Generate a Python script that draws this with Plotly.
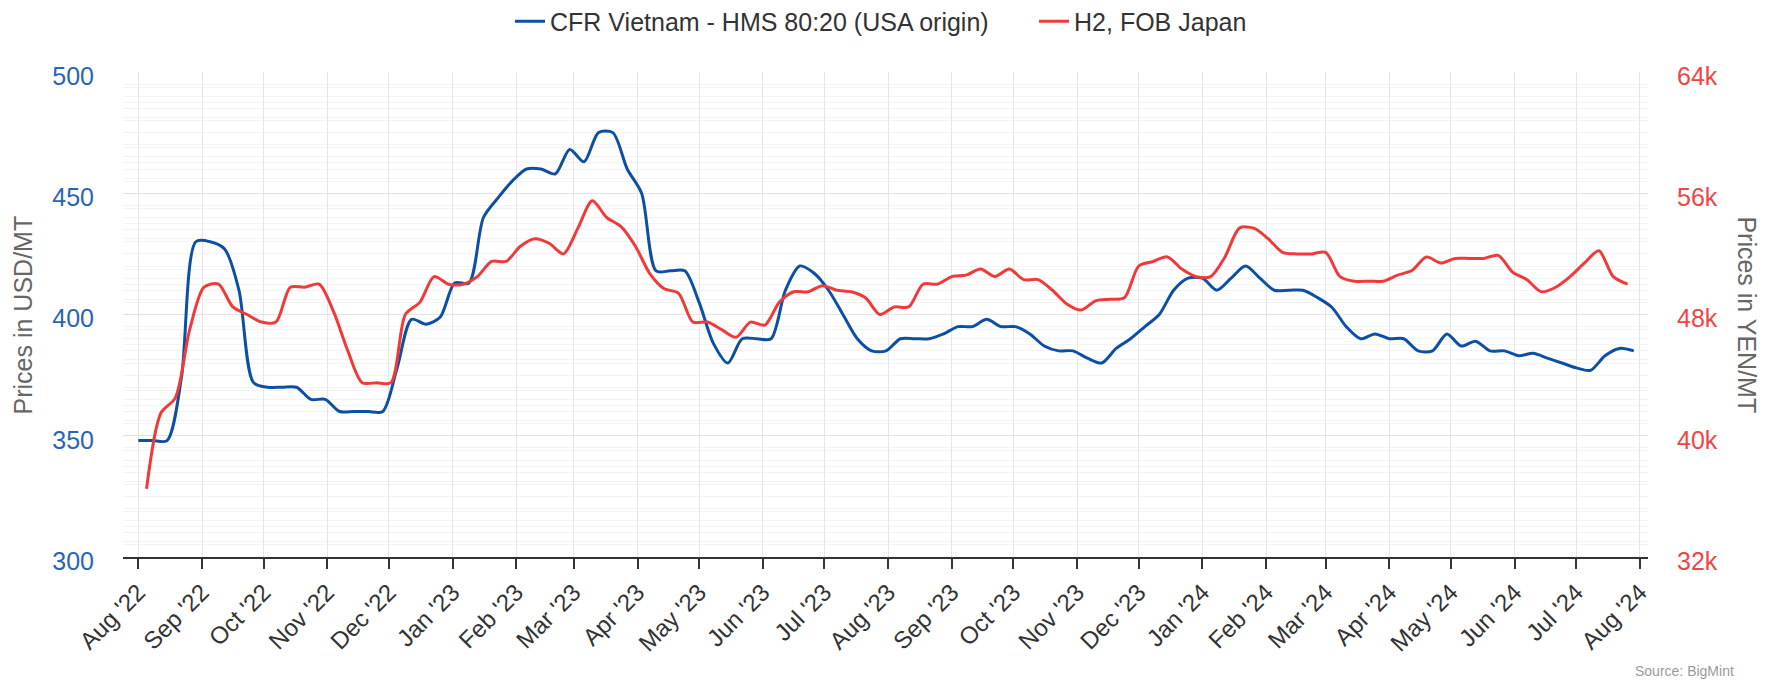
import pandas as pd
import plotly.graph_objects as go

# ---- data (weekly) ----
blue_name = "CFR Vietnam - HMS 80:20 (USA origin)"
red_name = "H2, FOB Japan"
blue_start = "2022-08-01"
red_start = "2022-08-05"

blue_values = [
    348, 348, 348, 374, 430, 430, 427, 410, 372, 370,
    370, 370, 365, 365, 360, 360, 360, 360, 378, 398,
    396, 399, 413, 413, 440, 448, 455, 460, 460, 458,
    468, 463, 475, 475, 460, 450, 418, 418, 418, 405,
    388, 380, 390, 390, 390, 410, 420, 417, 410, 400,
    390, 385, 385, 390, 390, 390, 392, 395, 395, 398,
    395, 395, 392, 387, 385, 385, 382, 380, 386, 390,
    395, 400, 410, 415, 415, 410, 415, 420, 415, 410,
    410, 410, 407, 403, 395, 390, 392, 390, 390, 385,
    385, 392, 387, 389, 385, 385, 383, 384, 382, 380,
    378, 377, 383, 386, 385,
]

red_values = [
    36500, 41500, 42500, 47000, 49800, 50000, 48500, 48000, 47500, 47500,
    49800, 49800, 50000, 48200, 45600, 43500, 43500, 43500, 48000, 48800,
    50500, 50000, 50000, 50500, 51500, 51500, 52500, 53000, 52700, 52000,
    53700, 55500, 54400, 53800, 52500, 50700, 49700, 49400, 47500, 47500,
    47000, 46500, 47500, 47300, 48800, 49500, 49500, 49900, 49600, 49500,
    49100, 48000, 48500, 48500, 50000, 50000, 50500, 50600, 51000, 50500,
    51000, 50300, 50300, 49600, 48700, 48300, 48900, 49000, 49100, 51200,
    51500, 51800, 51000, 50500, 50500, 51800, 53700, 53700, 53000, 52100,
    52000, 52000, 52100, 50500, 50200, 50200, 50200, 50600, 50900, 51800,
    51400, 51700, 51700, 51700, 51900, 50800, 50300, 49500, 49800, 50500,
    51400, 52200, 50500, 50000,
]

blue_dates = pd.date_range(blue_start, periods=len(blue_values), freq="7D")
red_dates = pd.date_range(red_start, periods=len(red_values), freq="7D")

BLUE = "#0c4fa5"
RED = "#f03a3a"
FONT = "Liberation Sans, Arial, sans-serif"

fig = go.Figure()
fig.add_trace(go.Scatter(
    x=blue_dates, y=blue_values, name=blue_name, mode="lines",
    line=dict(color=BLUE, width=3, shape="spline", smoothing=0.8),
    yaxis="y",
))
fig.add_trace(go.Scatter(
    x=red_dates, y=red_values, name=red_name, mode="lines",
    line=dict(color=RED, width=3, shape="spline", smoothing=0.8),
    yaxis="y2",
))

fig.update_layout(
    width=1777, height=673,
    margin=dict(l=115, r=137, t=64, b=124, autoexpand=False),
    paper_bgcolor="white", plot_bgcolor="white",
    font=dict(family=FONT, color="#333333"),
    showlegend=True,
    legend=dict(
        orientation="h", x=0.2538, xanchor="left", y=1.104, yanchor="middle",
        entrywidth=479, entrywidthmode="pixels",
        font=dict(size=25, color="#333333"), bgcolor="rgba(0,0,0,0)",
    ),
    xaxis=dict(
        type="date", automargin=False,
        range=["2022-07-24 13:00", "2024-08-04 22:00"],
        tick0="2022-08-01", dtick="M1", tickformat="%b '%y",
        tickangle=-45, tickfont=dict(size=24, color="#333333"),
        ticks="outside", ticklen=10, tickwidth=1.5, tickcolor="#333333",
        showline=True, linecolor="#333333", linewidth=1.5,
        showgrid=True, gridcolor="#e6e6e6", gridwidth=1,
        zeroline=False,
    ),
    yaxis=dict(
        range=[300, 500], dtick=50, tick0=300, automargin=False,
        tickfont=dict(size=25, color="#2a64b8"),
        ticks="", ticklabelstandoff=28, ticklabelshift=4,
        showgrid=True, gridcolor="#e3e3e3", gridwidth=1,
        minor=dict(dtick=5, showgrid=True, gridcolor="#f3f3f3", gridwidth=1),
        zeroline=False, showline=False,
    ),
    yaxis2=dict(
        range=[32000, 64000], dtick=8000, tick0=32000, tickformat="~s",
        overlaying="y", side="right", automargin=False,
        tickfont=dict(size=25, color="#f04545"),
        ticks="", ticklabelstandoff=28, ticklabelshift=4,
        showgrid=True, gridcolor="#e3e3e3", gridwidth=1,
        minor=dict(dtick=1000, showgrid=True, gridcolor="#f3f3f3", gridwidth=1),
        zeroline=False, showline=False,
    ),
    annotations=[
        dict(text="Prices in USD/MT", xref="paper", yref="paper",
             x=-0.0656, y=0.5, xanchor="center", yanchor="middle",
             textangle=-90, showarrow=False,
             font=dict(size=25, color="#666666")),
        dict(text="Prices in YEN/MT", xref="paper", yref="paper",
             x=1.065, y=0.5, xanchor="center", yanchor="middle",
             textangle=90, showarrow=False,
             font=dict(size=25, color="#666666")),
        dict(text="Source: BigMint", xref="paper", yref="paper",
             x=1.0577, y=-0.236, xanchor="right", yanchor="middle",
             showarrow=False, font=dict(size=14, color="#999999")),
    ],
)

fig.write_html("out.html")
